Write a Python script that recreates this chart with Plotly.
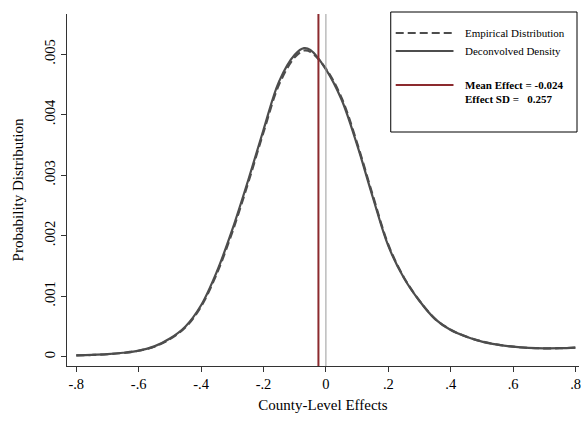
import plotly.graph_objects as go

# ---- data ----
x_grid = [-0.80, -0.75, -0.70, -0.65, -0.60, -0.55, -0.50, -0.45, -0.40, -0.35,
          -0.30, -0.25, -0.20, -0.15, -0.10, -0.07, -0.05, 0.00, 0.05, 0.10,
          0.15, 0.20, 0.25, 0.30, 0.35, 0.40, 0.45, 0.50, 0.55, 0.60,
          0.65, 0.70, 0.75, 0.80]
deconvolved = [0.000023, 0.000030, 0.000042, 0.000065, 0.000100, 0.000170, 0.000300, 0.000500, 0.000850, 0.001400,
               0.002100, 0.002900, 0.003750, 0.004550, 0.004990, 0.005100, 0.005070, 0.004750, 0.004250, 0.003500,
               0.002640, 0.001830, 0.001300, 0.000920, 0.000620, 0.000440, 0.000330, 0.000250, 0.000200, 0.000165,
               0.000145, 0.000138, 0.000140, 0.000150]
empirical = [0.000020, 0.000028, 0.000040, 0.000062, 0.000098, 0.000165, 0.000290, 0.000485, 0.000830, 0.001370,
             0.002060, 0.002860, 0.003710, 0.004500, 0.004950, 0.005060, 0.005040, 0.004760, 0.004280, 0.003530,
             0.002670, 0.001850, 0.001310, 0.000925, 0.000625, 0.000445, 0.000332, 0.000252, 0.000200, 0.000165,
             0.000145, 0.000138, 0.000140, 0.000150]
mean_effect = -0.024
effect_sd = 0.257

x_ticks = [-0.8, -0.6, -0.4, -0.2, 0, 0.2, 0.4, 0.6, 0.8]
x_tick_labels = ["-.8", "-.6", "-.4", "-.2", "0", ".2", ".4", ".6", ".8"]
y_ticks = [0, 0.001, 0.002, 0.003, 0.004, 0.005]
y_tick_labels = ["0", ".001", ".002", ".003", ".004", ".005"]

# ---- styling ----
FONT = "Liberation Serif, Times New Roman, serif"
CURVE = "#4d4d4d"
RED = "#8c2a2e"
DASH = "8px,4px"
Y_LO, Y_HI = -0.000154, 0.005664

fig = go.Figure()

fig.add_trace(go.Scatter(x=x_grid, y=empirical, mode="lines", line_shape="spline",
                         line=dict(color=CURVE, width=2.2, dash=DASH),
                         name="Empirical Distribution", showlegend=False))
fig.add_trace(go.Scatter(x=x_grid, y=deconvolved, mode="lines", line_shape="spline",
                         line=dict(color=CURVE, width=2.2),
                         name="Deconvolved Density", showlegend=False))

# vertical reference lines
fig.add_trace(go.Scatter(x=[0, 0], y=[Y_LO, Y_HI], mode="lines",
                         line=dict(color="#9a9a9a", width=1), showlegend=False))
fig.add_trace(go.Scatter(x=[mean_effect, mean_effect], y=[Y_LO, Y_HI], mode="lines",
                         line=dict(color=RED, width=2), showlegend=False))

# ---- manual legend box (paper coords in pixels converted) ----
W, H = 581, 423
ml, mr, mt, mb = 67, 0, 14, 57
pw, ph = W - ml - mr, H - mt - mb

def px(xp):
    return (xp - ml) / pw

def py(yp):
    return 1 - (yp - mt) / ph

fig.add_shape(type="rect", xref="paper", yref="paper",
              x0=px(392), x1=px(579), y0=py(132), y1=py(12),
              line=dict(color="black", width=1), fillcolor="white", layer="above")
fig.add_shape(type="line", xref="paper", yref="paper",
              x0=px(397), x1=px(455), y0=py(33), y1=py(33),
              line=dict(color=CURVE, width=2, dash=DASH), layer="above")
fig.add_shape(type="line", xref="paper", yref="paper",
              x0=px(397), x1=px(455), y0=py(51), y1=py(51),
              line=dict(color=CURVE, width=2), layer="above")
fig.add_shape(type="line", xref="paper", yref="paper",
              x0=px(397), x1=px(455), y0=py(85), y1=py(85),
              line=dict(color=RED, width=2), layer="above")

legend_texts = [
    ("Empirical Distribution", 33, False),
    ("Deconvolved Density", 51, False),
    (f"Mean Effect = {mean_effect:.3f}", 85, True),
    (f"Effect SD =\u00a0\u00a0\u00a0{effect_sd:.3f}", 99, True),
]
for txt, ypix, bold in legend_texts:
    fig.add_annotation(xref="paper", yref="paper", x=px(465), y=py(ypix),
                       text=f"<b>{txt}</b>" if bold else txt, showarrow=False,
                       xanchor="left", yanchor="middle",
                       font=dict(family=FONT, size=11, color="black"))

fig.update_layout(
    width=W, height=H,
    margin=dict(l=ml, r=mr, t=mt, b=mb),
    paper_bgcolor="white", plot_bgcolor="white",
    font=dict(family=FONT, size=14.5, color="black"),
    showlegend=False,
)
fig.update_xaxes(
    range=[-0.8297, 0.811], tickvals=x_ticks, ticktext=x_tick_labels,
    ticklabeloverflow="allow", tickfont=dict(size=14.5),
    showgrid=False, zeroline=False, showline=True, linecolor="#333333", linewidth=1,
    ticks="outside", ticklen=5, tickcolor="#333333",
    title=dict(text="County-Level Effects", font=dict(family=FONT, size=15), standoff=8),
)
fig.update_yaxes(
    range=[Y_LO, Y_HI], tickvals=y_ticks, ticktext=y_tick_labels, tickangle=-90,
    tickfont=dict(size=14.5),
    showgrid=False, zeroline=False, showline=True, linecolor="#333333", linewidth=1,
    ticks="outside", ticklen=5, tickcolor="#333333",
    title=dict(text="Probability Distribution", font=dict(family=FONT, size=15), standoff=14),
)

fig.write_html("out.html", config={"displayModeBar": False},
               post_script="document.body.style.margin='0';document.body.style.overflow='hidden';")
